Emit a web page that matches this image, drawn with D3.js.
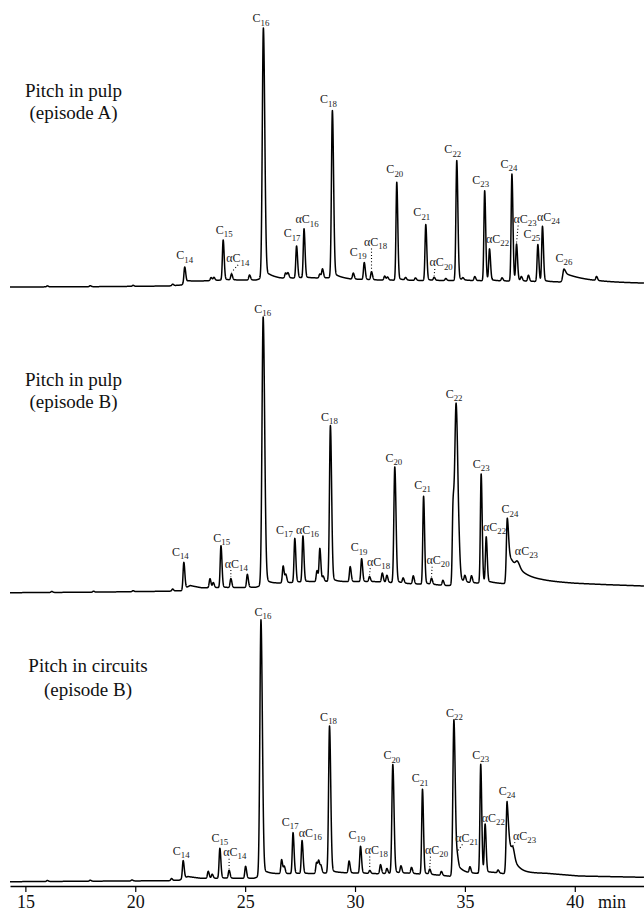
<!DOCTYPE html>
<html><head><meta charset="utf-8">
<script src="https://cdn.jsdelivr.net/npm/d3@7"></script>
<style>body{margin:0;background:#fff}svg{display:block}</style>
</head><body>
<svg id="c" width="644" height="911"></svg>
<script>
// ---------------- DATA ----------------
const timeTicks = [15, 20, 25, 30, 35, 40];
const axisUnit = "min";
const titlesA = ["Pitch in pulp", "(episode A)"];
const titlesB1 = ["Pitch in pulp", "(episode B)"];
const titlesB2 = ["Pitch in circuits", "(episode B)"];

// Panel A: Pitch in pulp (episode A)
const peakLabA = ["","","","","C14","","","C15","αC14","","C16","","","C17","αC16","","","C18","","C19","αC18","","","C20","","","C21","αC20","","C22","","","C23","αC22","","C24","αC23","","","C25","αC24","C26",""];
const peakTimeA = [16.0,17.95,19.9,21.7,22.25,23.45,23.58,24.0,24.38,25.2,25.83,26.84,26.95,27.34,27.68,28.4,28.52,28.97,29.92,30.42,30.75,31.35,31.48,31.9,32.3,32.75,33.22,33.6,34.13,34.63,34.91,35.45,35.9,36.12,36.69,37.14,37.35,37.57,37.89,38.32,38.53,39.51,40.99];
const peakHeightA = [1,1,1,1.5,16,3,3,40,6,5,250,5,5,32,49,4,9,167,6,17,8,4,3,98,2.5,2.5,56,3,2,120,2,4,90,31,3,107,36,4,6,37,55,13,4];
const baseTimeA = [14.3,18,21.5,22.1,22.4,23,24,25.5,26.1,26.6,28.7,29.2,29.8,31,33,35,37,39.4,41,43.15];
const baseLevelA = [0,0.3,1,2,6,6,7,7,11,9,9,10,8,7,6.5,6.5,6,5,4.5,3.7];

// Panel B1: Pitch in pulp (episode B)
const peakLabB1 = ["","","","","C14","","","C15","αC14","","C16","","","C17","αC16","","","","C18","","C19","αC18","","","C20","","","C21","αC20","","","C22","","","","C23","αC22","C24","αC23"];
const peakTimeB1 = [16.2,18.1,19.9,21.7,22.21,23.4,23.55,23.9,24.35,25.1,25.82,26.73,26.85,27.26,27.63,28.27,28.4,28.55,28.88,29.78,30.3,30.66,31.24,31.45,31.81,32.19,32.65,33.12,33.48,34.0,34.46,34.6,34.75,35.0,35.3,35.74,35.97,36.93,37.39];
const peakHeightB1 = [1,1,1,2,27,9,5,42,9,13,268,17,8,44,46,11,33,5,156,15,23,5,9,7,116,5,8,88,6,5,70,180,8,6,7,109,45,65,6];
const baseTimeB1 = [14.3,18,21.5,22.1,22.5,23,24.5,25.5,26,27,28,29.3,31,32.4,33.6,34.2,35,36.2,36.8,37.5,38.5,40,41.5,43.15];
const baseLevelB1 = [0,0.5,1.5,2,7,5,5,5.5,9,10,11,11,11,9,8,7,9,10,9,12,11.5,9.4,8,6.7];

// Panel B2: Pitch in circuits (episode B)
const peakLabB2 = ["","","","","C14","","","C15","αC14","","C16","","","C17","αC16","","","","C18","","C19","αC18","","","C20","","","C21","αC20","","C22","αC21","","C23","αC22","","C24","αC23"];
const peakTimeB2 = [16.0,17.95,19.85,21.65,22.18,23.32,23.5,23.85,24.27,25.02,25.72,26.66,26.78,27.18,27.59,28.25,28.35,28.45,28.84,29.73,30.25,30.67,31.16,31.45,31.72,32.09,32.57,33.07,33.4,33.93,34.5,34.66,35.23,35.72,35.92,36.51,36.92,37.19];
const peakHeightB2 = [1,1,1,2,18,7,4,30,8,12,256,14,7,41,33,11,12,7,147,12,27,3,9,5,109,7,6,85,5,4,156,8,6,109,48,3,72,9];
const baseTimeB2 = [14.3,18,21.5,22,22.4,23,25.4,26,27,28,29.3,31,32.4,33.8,34.3,35,36.3,36.8,37.5,38.7,40.2,43.15];
const baseLevelB2 = [0,0.5,1,1.5,5,3.4,3.4,8,8,8,9,8,8.5,6.5,5.5,7,9,8,9,8.4,5.7,4.4];

// Peak shape details (width factor, tail fraction, tail decay in min)
const shapeA = {"C16":[1.4,0.03,0.2],"C18":[1.2,0.03,0.2],"C26":[1.5,0.7,1.0],"C22":[1.1,0.03,0.2]};
const shapeB1 = {"C16":[1.5,0.03,0.2],"C18":[1.2,0.03,0.2],"C22":[1.8,0.06,0.25],"C24":[1.2,0.5,0.55],"αC23":[2.2,0.03,0.2],"C20":[1.2,0.03,0.2]};
const shapeB2 = {"C16":[1.4,0.03,0.2],"C18":[1.2,0.03,0.2],"C22":[1.3,0.12,0.3],"C24":[1.2,0.7,0.25],"αC23":[1.6,0.03,0.2],"C20":[1.2,0.03,0.2]};

// ---------------- LAYOUT ----------------
const SERIF = "'Liberation Serif','Times New Roman',Times,serif";
// label offsets: [dx from peak, gap between apex and text baseline]
const labA = {"C14":[0,7.5],"C15":[1,6],"αC14":[6.3,11.5],"C16":[-2.5,5.3],"C17":[-4.5,8.5],"αC16":[3,5.5],"C18":[-4,7],"C19":[-6,6.7],"αC18":[4,25.7],"C20":[-2,8.8],"C21":[-4,8],"αC20":[7,10.8],"C22":[-4,7],"C23":[-4,6.5],"αC22":[8,6],"C24":[-3,6.5],"αC23":[8.5,21],"C25":[-6,6.5],"αC24":[6,5.7],"C26":[0,7]};
const leadA = {"αC14":6.6,"αC18":0,"αC20":0.7,"αC23":1.6};
const labB1 = {"C14":[-3.5,6.7],"C15":[0.7,3.5],"αC14":[5.5,11],"C16":[-0.4,4],"C17":[-10.3,4.8],"αC16":[4.5,2],"C18":[-1,4.5],"C19":[-2.5,7.3],"αC18":[9,11],"C20":[-1,4.7],"C21":[-1,7],"αC20":[6.6,14],"C22":[-2,5.5],"C23":[0,6.3],"αC22":[8.3,6],"C24":[2.7,4.8],"αC23":[9,6]};
const leadB1 = {"αC14":0,"αC18":0.7,"αC20":0.6,"αC23":2};
const labB2 = {"C14":[-2,5.7],"C15":[0,6.7],"αC14":[5.7,14],"C16":[2,4.2],"C17":[-2.8,6.7],"αC16":[8.2,3.5],"C18":[-1,5],"C19":[-3.5,7.5],"αC18":[6.5,16.5],"C20":[-1,5],"C21":[-2.4,6.8],"αC20":[6.8,15],"C22":[0.6,3],"αC21":[9.3,11],"C23":[0,5.3],"αC22":[8.2,2.3],"C24":[0,6.7],"αC23":[11.5,7.3]};
const leadB2 = {"αC14":0,"αC18":0,"αC20":0.7,"αC21":5,"αC23":2};

const panels = [
  {y0:287, titles:titlesA, tx:73.5, ty:[96.5,119], lab:peakLabA, t:peakTimeA, h:peakHeightA, bt:baseTimeA, bl:baseLevelA, shape:shapeA, lay:labA, lead:leadA},
  {y0:592.7, titles:titlesB1, tx:73.5, ty:[386,407.5], lab:peakLabB1, t:peakTimeB1, h:peakHeightB1, bt:baseTimeB1, bl:baseLevelB1, shape:shapeB1, lay:labB1, lead:leadB1},
  {y0:881.7, titles:titlesB2, tx:88, ty:[672,696], lab:peakLabB2, t:peakTimeB2, h:peakHeightB2, bt:baseTimeB2, bl:baseLevelB2, shape:shapeB2, lay:labB2, lead:leadB2}
];

const svg = d3.select("#c");
const x = d3.scaleLinear().domain([14.3, 43.15]).range([10, 644]);
const SIGMA = 0.035;

function peakShape(dt, s, f, tau) {
  if (dt < 0) return Math.exp(-0.5 * (dt / s) ** 2);
  return (1 - f) * Math.exp(-0.5 * (dt / (1.3 * s)) ** 2) + f * Math.exp(-dt / tau);
}

panels.forEach(p => {
  const g = svg.append("g");
  const y = d3.scaleLinear().domain([0, 300]).range([p.y0, p.y0 - 300]);
  const base = d3.scaleLinear().domain(p.bt).range(p.bl).clamp(true);
  const peaks = p.t.map((t, i) => {
    const sh = p.shape[p.lab[i]] || [1, 0.03, 0.2];
    return {t, h: p.h[i], lab: p.lab[i], w: sh[0], f: sh[1], tau: sh[2]};
  });
  const signal = t => base(t) + d3.sum(peaks, pk => pk.h * peakShape(t - pk.t, SIGMA * pk.w, pk.f, pk.tau));
  const ts = d3.range(x.domain()[0], x.domain()[1] + 0.001, 0.004);
  const line = d3.line().x(t => x(t)).y(t => y(signal(t)));
  g.append("path").attr("d", line(ts)).attr("fill", "none").attr("stroke", "#000")
    .attr("stroke-width", 1.5).attr("stroke-linejoin", "round");

  // title
  p.titles.forEach((s, i) => {
    g.append("text").attr("x", p.tx).attr("y", p.ty[i]).attr("text-anchor", "middle")
      .attr("font-family", SERIF).attr("font-size", 19).attr("fill", "#111").text(s);
  });

  // peak labels
  peaks.filter(pk => pk.lab).forEach(pk => {
    const lay = p.lay[pk.lab] || [0, 6];
    const px = x(pk.t), ay = y(signal(pk.t));
    const by = ay - lay[1];
    const m = pk.lab.match(/^(α?)C(\d+)$/);
    const txt = g.append("text").attr("x", px + lay[0]).attr("y", by).attr("text-anchor", "middle")
      .attr("font-family", SERIF).attr("font-size", 12).attr("fill", "#222");
    txt.append("tspan").text(m[1] + "C");
    txt.append("tspan").attr("font-size", 8.8).attr("dy", 3.2).text(m[2]);
    if (p.lead[pk.lab] !== undefined) {
      const y1 = by + 2.5, y2 = ay - 1.5;
      if (y2 - y1 > 2) {
        g.append("line").attr("x1", px + p.lead[pk.lab]).attr("y1", y1).attr("x2", px).attr("y2", y2)
          .attr("stroke", "#000").attr("stroke-width", 1.1).attr("stroke-dasharray", "1,2.2");
      }
    }
  });
});

// axis
const ax = svg.append("g").attr("transform", "translate(0,886)")
  .call(d3.axisBottom(x).tickValues(timeTicks).tickSize(6).tickSizeOuter(0).tickPadding(3));
ax.attr("font-family", SERIF).attr("font-size", 18);
ax.select(".domain").attr("stroke", "#000").attr("stroke-width", 1.5);
ax.selectAll(".tick line").attr("stroke", "#000").attr("stroke-width", 1.2);
ax.selectAll(".tick text").attr("fill", "#111");
svg.append("text").attr("x", 598).attr("y", 908).attr("font-family", SERIF).attr("font-size", 18)
  .attr("fill", "#111").text(axisUnit);
</script>
</body></html>
